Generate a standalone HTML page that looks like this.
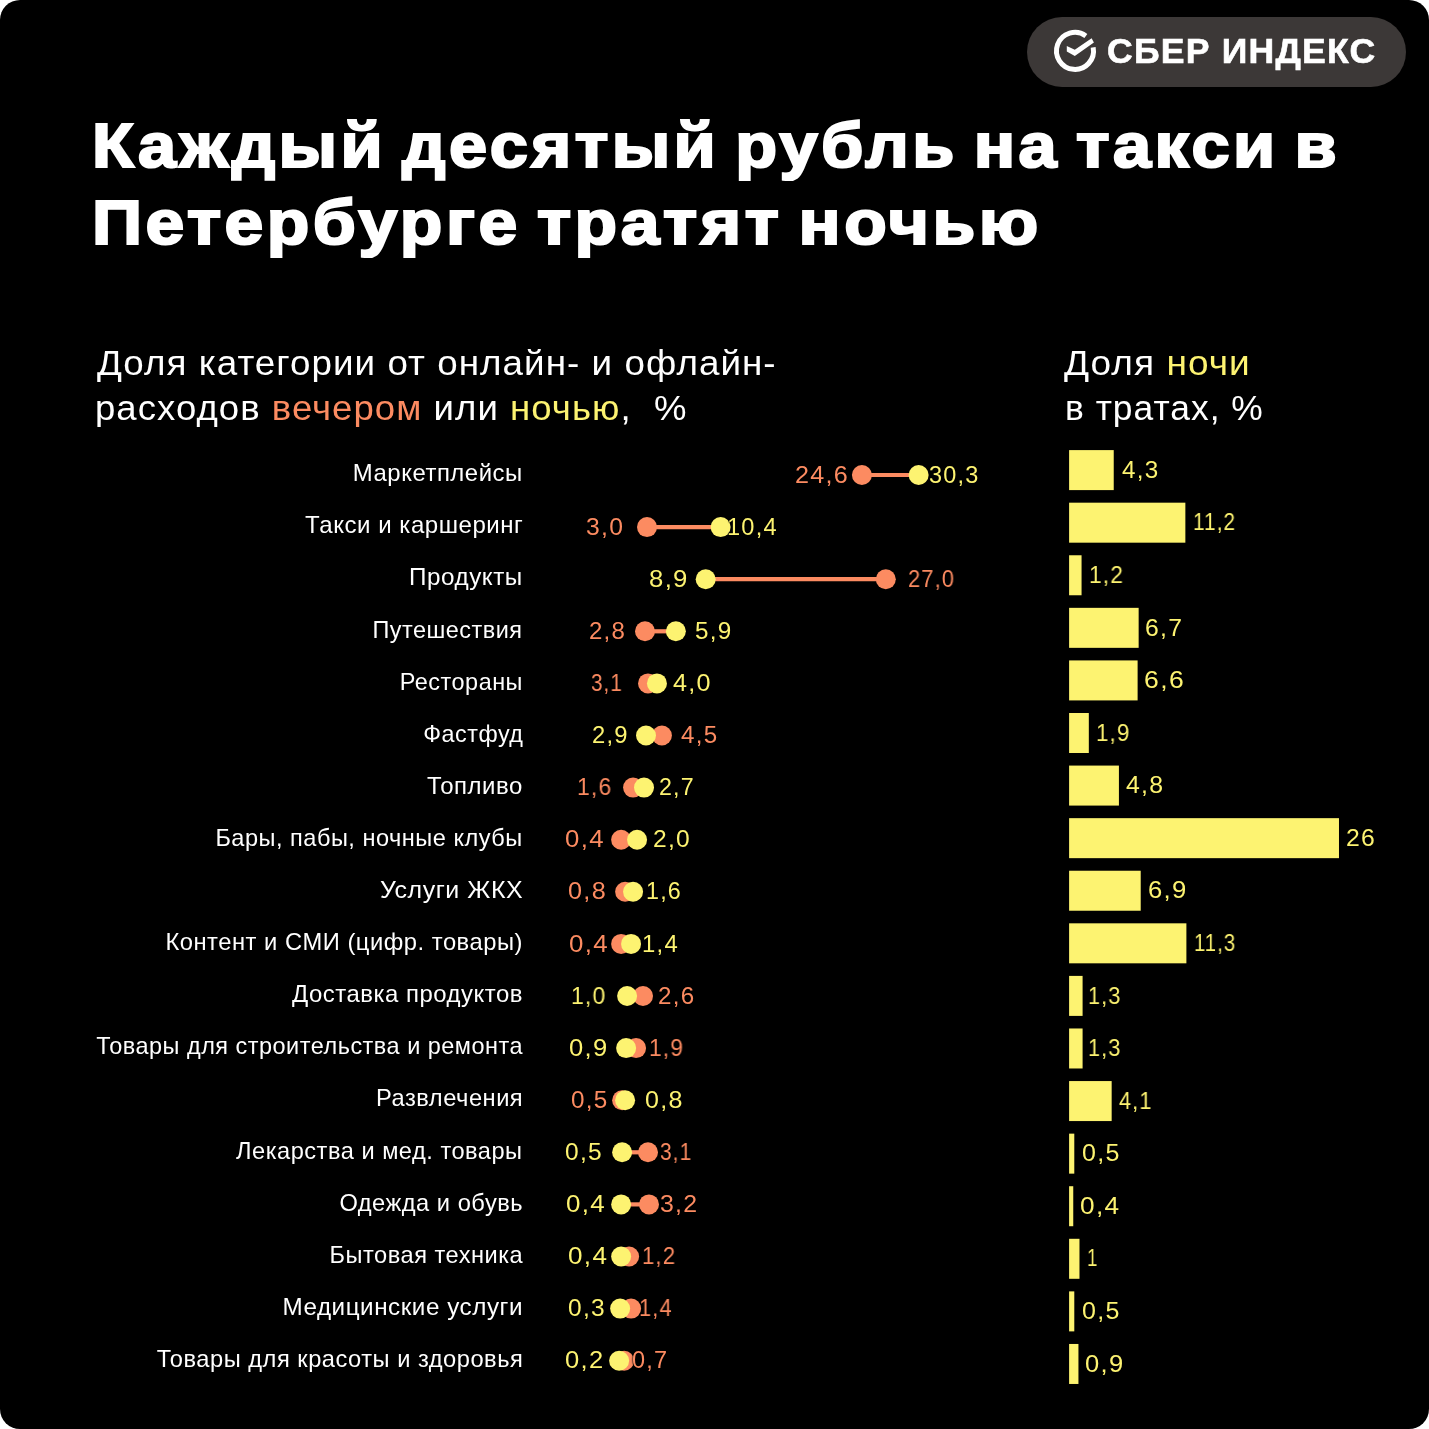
<!DOCTYPE html>
<html><head><meta charset="utf-8"><style>
html,body{margin:0;padding:0;background:#fff;}
#c{position:relative;width:1429px;height:1429px;background:#000;border-radius:20px;overflow:hidden;font-family:"Liberation Sans", sans-serif;}
.t{position:absolute;white-space:nowrap;will-change:transform;}
</style></head><body><div id="c">
<div style="position:absolute;left:1027px;top:17px;width:378.7px;height:70px;border-radius:35.0px;background:#3c3837"></div>
<svg style="position:absolute;left:0;top:0" width="1429" height="120" viewBox="0 0 1429 120"><path d="M1093.16 47.37 A18.5 18.5 0 1 1 1085.87 35.93" fill="none" stroke="#fff" stroke-width="5"/><polygon points="1066.8,45.9 1074.8,49.7 1091.6,38.2 1093.9,42.6 1074.8,56 1066.8,51.4" fill="#fff"/></svg>
<div class="t" style="left:1107.05px;top:33.86px;font-size:35.6px;line-height:35.6px;color:#fff;font-weight:700;transform:scaleX(1.0011);transform-origin:left center;-webkit-text-stroke:0.6px #fff;letter-spacing:1.2px;">СБЕР ИНДЕКС</div>
<div class="t" style="left:91.59px;top:113.95px;font-size:63.5px;line-height:63.5px;color:#fff;font-weight:700;transform:scaleX(1.0787);transform-origin:left center;-webkit-text-stroke:2.2px #fff;letter-spacing:3.2px;word-spacing:-6px;">Каждый десятый рубль на такси в</div>
<div class="t" style="left:91.52px;top:190.75px;font-size:63.5px;line-height:63.5px;color:#fff;font-weight:700;transform:scaleX(1.0971);transform-origin:left center;-webkit-text-stroke:2.2px #fff;letter-spacing:3.2px;word-spacing:-6px;">Петербурге тратят ночью</div>
<div class="t" style="left:96.58px;top:345.12px;font-size:35.3px;line-height:35.3px;color:#fff;font-weight:400;transform:scaleX(1.0419);transform-origin:left center;letter-spacing:1.0px;">Доля категории от онлайн- и офлайн-</div>
<div class="t" style="left:95.07px;top:389.62px;font-size:35.3px;line-height:35.3px;color:#fff;font-weight:400;transform:scaleX(1.0354);transform-origin:left center;letter-spacing:1.0px;">расходов <span style="color:#FC8B61">вечером</span> или <span style="color:#FDF371">ночью</span>,&nbsp; %</div>
<div class="t" style="left:1064.38px;top:345.12px;font-size:35.3px;line-height:35.3px;color:#fff;font-weight:400;transform:scaleX(1.0487);transform-origin:left center;letter-spacing:1.0px;">Доля <span style="color:#FDF371">ночи</span></div>
<div class="t" style="left:1064.70px;top:389.62px;font-size:35.3px;line-height:35.3px;color:#fff;font-weight:400;transform:scaleX(1.0027);transform-origin:left center;letter-spacing:1.0px;">в тратах, %</div>
<svg style="position:absolute;left:0;top:0" width="1429" height="1429" viewBox="0 0 1429 1429">
<line x1="861.92" y1="475.00" x2="918.63" y2="475.00" stroke="#FC8B61" stroke-width="4.2"/>
<circle cx="861.92" cy="475.00" r="10" fill="#FC8B61"/>
<circle cx="918.63" cy="475.00" r="10" fill="#FDF371"/>
<rect x="1069.1" y="450.10" width="44.63" height="40" fill="#FDF371"/>
<line x1="647.00" y1="527.10" x2="720.63" y2="527.10" stroke="#FC8B61" stroke-width="4.2"/>
<circle cx="647.00" cy="527.10" r="10" fill="#FC8B61"/>
<circle cx="720.63" cy="527.10" r="10" fill="#FDF371"/>
<rect x="1069.1" y="502.68" width="116.26" height="40" fill="#FDF371"/>
<line x1="885.80" y1="579.20" x2="705.70" y2="579.20" stroke="#FC8B61" stroke-width="4.2"/>
<circle cx="885.80" cy="579.20" r="10" fill="#FC8B61"/>
<circle cx="705.70" cy="579.20" r="10" fill="#FDF371"/>
<rect x="1069.1" y="555.26" width="12.46" height="40" fill="#FDF371"/>
<line x1="645.01" y1="631.30" x2="675.86" y2="631.30" stroke="#FC8B61" stroke-width="4.2"/>
<circle cx="645.01" cy="631.30" r="10" fill="#FC8B61"/>
<circle cx="675.86" cy="631.30" r="10" fill="#FDF371"/>
<rect x="1069.1" y="607.84" width="69.55" height="40" fill="#FDF371"/>
<line x1="648.00" y1="683.40" x2="656.95" y2="683.40" stroke="#FC8B61" stroke-width="4.2"/>
<circle cx="648.00" cy="683.40" r="10" fill="#FC8B61"/>
<circle cx="656.95" cy="683.40" r="10" fill="#FDF371"/>
<rect x="1069.1" y="660.42" width="68.51" height="40" fill="#FDF371"/>
<line x1="661.92" y1="735.50" x2="646.00" y2="735.50" stroke="#FC8B61" stroke-width="4.2"/>
<circle cx="661.92" cy="735.50" r="10" fill="#FC8B61"/>
<circle cx="646.00" cy="735.50" r="10" fill="#FDF371"/>
<rect x="1069.1" y="713.00" width="19.72" height="40" fill="#FDF371"/>
<line x1="633.07" y1="787.60" x2="644.01" y2="787.60" stroke="#FC8B61" stroke-width="4.2"/>
<circle cx="633.07" cy="787.60" r="10" fill="#FC8B61"/>
<circle cx="644.01" cy="787.60" r="10" fill="#FDF371"/>
<rect x="1069.1" y="765.58" width="49.82" height="40" fill="#FDF371"/>
<line x1="621.13" y1="839.70" x2="637.05" y2="839.70" stroke="#FC8B61" stroke-width="4.2"/>
<circle cx="621.13" cy="839.70" r="10" fill="#FC8B61"/>
<circle cx="637.05" cy="839.70" r="10" fill="#FDF371"/>
<rect x="1069.1" y="818.16" width="269.88" height="40" fill="#FDF371"/>
<line x1="625.11" y1="891.80" x2="633.07" y2="891.80" stroke="#FC8B61" stroke-width="4.2"/>
<circle cx="625.11" cy="891.80" r="10" fill="#FC8B61"/>
<circle cx="633.07" cy="891.80" r="10" fill="#FDF371"/>
<rect x="1069.1" y="870.74" width="71.62" height="40" fill="#FDF371"/>
<line x1="621.13" y1="943.90" x2="631.08" y2="943.90" stroke="#FC8B61" stroke-width="4.2"/>
<circle cx="621.13" cy="943.90" r="10" fill="#FC8B61"/>
<circle cx="631.08" cy="943.90" r="10" fill="#FDF371"/>
<rect x="1069.1" y="923.32" width="117.29" height="40" fill="#FDF371"/>
<line x1="643.02" y1="996.00" x2="627.10" y2="996.00" stroke="#FC8B61" stroke-width="4.2"/>
<circle cx="643.02" cy="996.00" r="10" fill="#FC8B61"/>
<circle cx="627.10" cy="996.00" r="10" fill="#FDF371"/>
<rect x="1069.1" y="975.90" width="13.49" height="40" fill="#FDF371"/>
<line x1="636.05" y1="1048.10" x2="626.11" y2="1048.10" stroke="#FC8B61" stroke-width="4.2"/>
<circle cx="636.05" cy="1048.10" r="10" fill="#FC8B61"/>
<circle cx="626.11" cy="1048.10" r="10" fill="#FDF371"/>
<rect x="1069.1" y="1028.48" width="13.49" height="40" fill="#FDF371"/>
<line x1="622.12" y1="1100.20" x2="625.11" y2="1100.20" stroke="#FC8B61" stroke-width="4.2"/>
<circle cx="622.12" cy="1100.20" r="10" fill="#FC8B61"/>
<circle cx="625.11" cy="1100.20" r="10" fill="#FDF371"/>
<rect x="1069.1" y="1081.06" width="42.56" height="40" fill="#FDF371"/>
<line x1="648.00" y1="1152.30" x2="622.12" y2="1152.30" stroke="#FC8B61" stroke-width="4.2"/>
<circle cx="648.00" cy="1152.30" r="10" fill="#FC8B61"/>
<circle cx="622.12" cy="1152.30" r="10" fill="#FDF371"/>
<rect x="1069.1" y="1133.64" width="5.19" height="40" fill="#FDF371"/>
<line x1="648.99" y1="1204.40" x2="621.13" y2="1204.40" stroke="#FC8B61" stroke-width="4.2"/>
<circle cx="648.99" cy="1204.40" r="10" fill="#FC8B61"/>
<circle cx="621.13" cy="1204.40" r="10" fill="#FDF371"/>
<rect x="1069.1" y="1186.22" width="4.15" height="40" fill="#FDF371"/>
<line x1="629.09" y1="1256.50" x2="621.13" y2="1256.50" stroke="#FC8B61" stroke-width="4.2"/>
<circle cx="629.09" cy="1256.50" r="10" fill="#FC8B61"/>
<circle cx="621.13" cy="1256.50" r="10" fill="#FDF371"/>
<rect x="1069.1" y="1238.80" width="10.38" height="40" fill="#FDF371"/>
<line x1="631.08" y1="1308.60" x2="620.13" y2="1308.60" stroke="#FC8B61" stroke-width="4.2"/>
<circle cx="631.08" cy="1308.60" r="10" fill="#FC8B61"/>
<circle cx="620.13" cy="1308.60" r="10" fill="#FDF371"/>
<rect x="1069.1" y="1291.38" width="5.19" height="40" fill="#FDF371"/>
<line x1="624.12" y1="1360.70" x2="619.14" y2="1360.70" stroke="#FC8B61" stroke-width="4.2"/>
<circle cx="624.12" cy="1360.70" r="10" fill="#FC8B61"/>
<circle cx="619.14" cy="1360.70" r="10" fill="#FDF371"/>
<rect x="1069.1" y="1343.96" width="9.34" height="40" fill="#FDF371"/>
</svg>
<div class="t" style="right:906.00px;top:462.26px;font-size:23.2px;line-height:23.2px;color:#fff;font-weight:400;transform:scaleX(1.0316);transform-origin:right center;letter-spacing:0.5px;">Маркетплейсы</div>
<div class="t" style="left:795.44px;top:463.67px;font-size:23.2px;line-height:23.2px;color:#FC8B61;font-weight:400;transform:scaleX(1.0837);transform-origin:left center;text-shadow:0 0 1.5px #000,0 0 1.5px #000,0 0 1.5px #000;letter-spacing:1.2px;">24,6</div>
<div class="t" style="left:929.36px;top:463.67px;font-size:23.2px;line-height:23.2px;color:#FDF371;font-weight:400;transform:scaleX(1.0126);transform-origin:left center;text-shadow:0 0 1.5px #000,0 0 1.5px #000,0 0 1.5px #000;letter-spacing:1.2px;">30,3</div>
<div class="t" style="left:1122.46px;top:458.77px;font-size:23.2px;line-height:23.2px;color:#FDF371;font-weight:400;transform:scaleX(1.0447);transform-origin:left center;letter-spacing:1.2px;">4,3</div>
<div class="t" style="right:906.00px;top:514.36px;font-size:23.2px;line-height:23.2px;color:#fff;font-weight:400;transform:scaleX(1.0375);transform-origin:right center;letter-spacing:0.5px;">Такси и каршеринг</div>
<div class="t" style="left:586.44px;top:515.77px;font-size:23.2px;line-height:23.2px;color:#FC8B61;font-weight:400;transform:scaleX(1.0645);transform-origin:left center;text-shadow:0 0 1.5px #000,0 0 1.5px #000,0 0 1.5px #000;letter-spacing:1.2px;">3,0</div>
<div class="t" style="left:727.23px;top:515.77px;font-size:23.2px;line-height:23.2px;color:#FDF371;font-weight:400;transform:scaleX(1.0184);transform-origin:left center;text-shadow:0 0 1.5px #000,0 0 1.5px #000,0 0 1.5px #000;letter-spacing:1.2px;">10,4</div>
<div class="t" style="left:1192.83px;top:511.35px;font-size:23.2px;line-height:23.2px;color:#FDF371;font-weight:400;transform:scaleX(0.8962);transform-origin:left center;letter-spacing:1.2px;">11,2</div>
<div class="t" style="right:906.00px;top:566.46px;font-size:23.2px;line-height:23.2px;color:#fff;font-weight:400;transform:scaleX(1.0450);transform-origin:right center;letter-spacing:0.5px;">Продукты</div>
<div class="t" style="left:908.25px;top:567.87px;font-size:23.2px;line-height:23.2px;color:#FC8B61;font-weight:400;transform:scaleX(0.9450);transform-origin:left center;text-shadow:0 0 1.5px #000,0 0 1.5px #000,0 0 1.5px #000;letter-spacing:1.2px;">27,0</div>
<div class="t" style="left:648.68px;top:567.87px;font-size:23.2px;line-height:23.2px;color:#FDF371;font-weight:400;transform:scaleX(1.1088);transform-origin:left center;text-shadow:0 0 1.5px #000,0 0 1.5px #000,0 0 1.5px #000;letter-spacing:1.2px;">8,9</div>
<div class="t" style="left:1088.51px;top:563.93px;font-size:23.2px;line-height:23.2px;color:#FDF371;font-weight:400;transform:scaleX(0.9792);transform-origin:left center;letter-spacing:1.2px;">1,2</div>
<div class="t" style="right:906.00px;top:618.56px;font-size:23.2px;line-height:23.2px;color:#fff;font-weight:400;transform:scaleX(1.0104);transform-origin:right center;letter-spacing:0.5px;">Путешествия</div>
<div class="t" style="left:588.71px;top:619.97px;font-size:23.2px;line-height:23.2px;color:#FC8B61;font-weight:400;transform:scaleX(1.0356);transform-origin:left center;text-shadow:0 0 1.5px #000,0 0 1.5px #000,0 0 1.5px #000;letter-spacing:1.2px;">2,8</div>
<div class="t" style="left:695.17px;top:619.97px;font-size:23.2px;line-height:23.2px;color:#FDF371;font-weight:400;transform:scaleX(1.0447);transform-origin:left center;text-shadow:0 0 1.5px #000,0 0 1.5px #000,0 0 1.5px #000;letter-spacing:1.2px;">5,9</div>
<div class="t" style="left:1144.62px;top:616.51px;font-size:23.2px;line-height:23.2px;color:#FDF371;font-weight:400;transform:scaleX(1.0672);transform-origin:left center;letter-spacing:1.2px;">6,7</div>
<div class="t" style="right:906.00px;top:670.66px;font-size:23.2px;line-height:23.2px;color:#fff;font-weight:400;transform:scaleX(1.0105);transform-origin:right center;letter-spacing:0.5px;">Рестораны</div>
<div class="t" style="left:590.96px;top:672.07px;font-size:23.2px;line-height:23.2px;color:#FC8B61;font-weight:400;transform:scaleX(0.8897);transform-origin:left center;text-shadow:0 0 1.5px #000,0 0 1.5px #000,0 0 1.5px #000;letter-spacing:1.2px;">3,1</div>
<div class="t" style="left:672.86px;top:672.07px;font-size:23.2px;line-height:23.2px;color:#FDF371;font-weight:400;transform:scaleX(1.0859);transform-origin:left center;text-shadow:0 0 1.5px #000,0 0 1.5px #000,0 0 1.5px #000;letter-spacing:1.2px;">4,0</div>
<div class="t" style="left:1144.42px;top:669.09px;font-size:23.2px;line-height:23.2px;color:#FDF371;font-weight:400;transform:scaleX(1.1453);transform-origin:left center;letter-spacing:1.2px;">6,6</div>
<div class="t" style="right:906.00px;top:722.76px;font-size:23.2px;line-height:23.2px;color:#fff;font-weight:400;transform:scaleX(1.0064);transform-origin:right center;letter-spacing:0.5px;">Фастфуд</div>
<div class="t" style="left:681.30px;top:724.17px;font-size:23.2px;line-height:23.2px;color:#FC8B61;font-weight:400;transform:scaleX(1.0409);transform-origin:left center;text-shadow:0 0 1.5px #000,0 0 1.5px #000,0 0 1.5px #000;letter-spacing:1.2px;">4,5</div>
<div class="t" style="left:591.74px;top:724.17px;font-size:23.2px;line-height:23.2px;color:#FDF371;font-weight:400;transform:scaleX(1.0251);transform-origin:left center;text-shadow:0 0 1.5px #000,0 0 1.5px #000,0 0 1.5px #000;letter-spacing:1.2px;">2,9</div>
<div class="t" style="left:1095.94px;top:721.67px;font-size:23.2px;line-height:23.2px;color:#FDF371;font-weight:400;transform:scaleX(0.9627);transform-origin:left center;letter-spacing:1.2px;">1,9</div>
<div class="t" style="right:906.00px;top:774.86px;font-size:23.2px;line-height:23.2px;color:#fff;font-weight:400;transform:scaleX(1.0330);transform-origin:right center;letter-spacing:0.5px;">Топливо</div>
<div class="t" style="left:576.79px;top:776.27px;font-size:23.2px;line-height:23.2px;color:#FC8B61;font-weight:400;transform:scaleX(0.9884);transform-origin:left center;text-shadow:0 0 1.5px #000,0 0 1.5px #000,0 0 1.5px #000;letter-spacing:1.2px;">1,6</div>
<div class="t" style="left:658.77px;top:776.27px;font-size:23.2px;line-height:23.2px;color:#FDF371;font-weight:400;transform:scaleX(1.0010);transform-origin:left center;text-shadow:0 0 1.5px #000,0 0 1.5px #000,0 0 1.5px #000;letter-spacing:1.2px;">2,7</div>
<div class="t" style="left:1126.45px;top:774.25px;font-size:23.2px;line-height:23.2px;color:#FDF371;font-weight:400;transform:scaleX(1.0709);transform-origin:left center;letter-spacing:1.2px;">4,8</div>
<div class="t" style="right:906.00px;top:826.96px;font-size:23.2px;line-height:23.2px;color:#fff;font-weight:400;transform:scaleX(1.0152);transform-origin:right center;letter-spacing:0.5px;">Бары, пабы, ночные клубы</div>
<div class="t" style="left:564.96px;top:828.37px;font-size:23.2px;line-height:23.2px;color:#FC8B61;font-weight:400;transform:scaleX(1.1100);transform-origin:left center;text-shadow:0 0 1.5px #000,0 0 1.5px #000,0 0 1.5px #000;letter-spacing:1.2px;">0,4</div>
<div class="t" style="left:652.70px;top:828.37px;font-size:23.2px;line-height:23.2px;color:#FDF371;font-weight:400;transform:scaleX(1.0603);transform-origin:left center;text-shadow:0 0 1.5px #000,0 0 1.5px #000,0 0 1.5px #000;letter-spacing:1.2px;">2,0</div>
<div class="t" style="left:1346.48px;top:826.83px;font-size:23.2px;line-height:23.2px;color:#FDF371;font-weight:400;transform:scaleX(1.0676);transform-origin:left center;letter-spacing:1.2px;">26</div>
<div class="t" style="right:906.00px;top:879.06px;font-size:23.2px;line-height:23.2px;color:#fff;font-weight:400;transform:scaleX(1.0759);transform-origin:right center;letter-spacing:0.5px;">Услуги ЖКХ</div>
<div class="t" style="left:568.39px;top:880.47px;font-size:23.2px;line-height:23.2px;color:#FC8B61;font-weight:400;transform:scaleX(1.0874);transform-origin:left center;text-shadow:0 0 1.5px #000,0 0 1.5px #000,0 0 1.5px #000;letter-spacing:1.2px;">0,8</div>
<div class="t" style="left:645.66px;top:880.47px;font-size:23.2px;line-height:23.2px;color:#FDF371;font-weight:400;transform:scaleX(1.0053);transform-origin:left center;text-shadow:0 0 1.5px #000,0 0 1.5px #000,0 0 1.5px #000;letter-spacing:1.2px;">1,6</div>
<div class="t" style="left:1148.03px;top:879.41px;font-size:23.2px;line-height:23.2px;color:#FDF371;font-weight:400;transform:scaleX(1.1067);transform-origin:left center;letter-spacing:1.2px;">6,9</div>
<div class="t" style="right:906.00px;top:931.16px;font-size:23.2px;line-height:23.2px;color:#fff;font-weight:400;transform:scaleX(1.0247);transform-origin:right center;letter-spacing:0.5px;">Контент и СМИ (цифр. товары)</div>
<div class="t" style="left:569.31px;top:932.57px;font-size:23.2px;line-height:23.2px;color:#FC8B61;font-weight:400;transform:scaleX(1.1161);transform-origin:left center;text-shadow:0 0 1.5px #000,0 0 1.5px #000,0 0 1.5px #000;letter-spacing:1.2px;">0,4</div>
<div class="t" style="left:642.22px;top:932.57px;font-size:23.2px;line-height:23.2px;color:#FDF371;font-weight:400;transform:scaleX(1.0295);transform-origin:left center;text-shadow:0 0 1.5px #000,0 0 1.5px #000,0 0 1.5px #000;letter-spacing:1.2px;">1,4</div>
<div class="t" style="left:1193.73px;top:931.99px;font-size:23.2px;line-height:23.2px;color:#FDF371;font-weight:400;transform:scaleX(0.8770);transform-origin:left center;letter-spacing:1.2px;">11,3</div>
<div class="t" style="right:906.00px;top:983.26px;font-size:23.2px;line-height:23.2px;color:#fff;font-weight:400;transform:scaleX(1.0310);transform-origin:right center;letter-spacing:0.5px;">Доставка продуктов</div>
<div class="t" style="left:658.31px;top:984.67px;font-size:23.2px;line-height:23.2px;color:#FC8B61;font-weight:400;transform:scaleX(1.0422);transform-origin:left center;text-shadow:0 0 1.5px #000,0 0 1.5px #000,0 0 1.5px #000;letter-spacing:1.2px;">2,6</div>
<div class="t" style="left:571.29px;top:984.67px;font-size:23.2px;line-height:23.2px;color:#FDF371;font-weight:400;transform:scaleX(0.9894);transform-origin:left center;text-shadow:0 0 1.5px #000,0 0 1.5px #000,0 0 1.5px #000;letter-spacing:1.2px;">1,0</div>
<div class="t" style="left:1088.41px;top:984.57px;font-size:23.2px;line-height:23.2px;color:#FDF371;font-weight:400;transform:scaleX(0.9337);transform-origin:left center;letter-spacing:1.2px;">1,3</div>
<div class="t" style="right:906.00px;top:1035.36px;font-size:23.2px;line-height:23.2px;color:#fff;font-weight:400;transform:scaleX(1.0113);transform-origin:right center;letter-spacing:0.5px;">Товары для строительства и ремонта</div>
<div class="t" style="left:649.22px;top:1036.77px;font-size:23.2px;line-height:23.2px;color:#FC8B61;font-weight:400;transform:scaleX(0.9800);transform-origin:left center;text-shadow:0 0 1.5px #000,0 0 1.5px #000,0 0 1.5px #000;letter-spacing:1.2px;">1,9</div>
<div class="t" style="left:569.39px;top:1036.77px;font-size:23.2px;line-height:23.2px;color:#FDF371;font-weight:400;transform:scaleX(1.1004);transform-origin:left center;text-shadow:0 0 1.5px #000,0 0 1.5px #000,0 0 1.5px #000;letter-spacing:1.2px;">0,9</div>
<div class="t" style="left:1088.41px;top:1037.15px;font-size:23.2px;line-height:23.2px;color:#FDF371;font-weight:400;transform:scaleX(0.9337);transform-origin:left center;letter-spacing:1.2px;">1,3</div>
<div class="t" style="right:906.00px;top:1087.46px;font-size:23.2px;line-height:23.2px;color:#fff;font-weight:400;transform:scaleX(1.0208);transform-origin:right center;letter-spacing:0.5px;">Развлечения</div>
<div class="t" style="left:571.02px;top:1088.87px;font-size:23.2px;line-height:23.2px;color:#FC8B61;font-weight:400;transform:scaleX(1.0465);transform-origin:left center;text-shadow:0 0 1.5px #000,0 0 1.5px #000,0 0 1.5px #000;letter-spacing:1.2px;">0,5</div>
<div class="t" style="left:645.24px;top:1088.87px;font-size:23.2px;line-height:23.2px;color:#FDF371;font-weight:400;transform:scaleX(1.0802);transform-origin:left center;text-shadow:0 0 1.5px #000,0 0 1.5px #000,0 0 1.5px #000;letter-spacing:1.2px;">0,8</div>
<div class="t" style="left:1118.52px;top:1089.73px;font-size:23.2px;line-height:23.2px;color:#FDF371;font-weight:400;transform:scaleX(0.9364);transform-origin:left center;letter-spacing:1.2px;">4,1</div>
<div class="t" style="right:906.00px;top:1139.56px;font-size:23.2px;line-height:23.2px;color:#fff;font-weight:400;transform:scaleX(1.0176);transform-origin:right center;letter-spacing:0.5px;">Лекарства и мед. товары</div>
<div class="t" style="left:660.46px;top:1140.97px;font-size:23.2px;line-height:23.2px;color:#FC8B61;font-weight:400;transform:scaleX(0.9022);transform-origin:left center;text-shadow:0 0 1.5px #000,0 0 1.5px #000,0 0 1.5px #000;letter-spacing:1.2px;">3,1</div>
<div class="t" style="left:565.44px;top:1140.97px;font-size:23.2px;line-height:23.2px;color:#FDF371;font-weight:400;transform:scaleX(1.0575);transform-origin:left center;text-shadow:0 0 1.5px #000,0 0 1.5px #000,0 0 1.5px #000;letter-spacing:1.2px;">0,5</div>
<div class="t" style="left:1081.66px;top:1142.31px;font-size:23.2px;line-height:23.2px;color:#FDF371;font-weight:400;transform:scaleX(1.0789);transform-origin:left center;letter-spacing:1.2px;">0,5</div>
<div class="t" style="right:906.00px;top:1191.66px;font-size:23.2px;line-height:23.2px;color:#fff;font-weight:400;transform:scaleX(1.0201);transform-origin:right center;letter-spacing:0.5px;">Одежда и обувь</div>
<div class="t" style="left:660.29px;top:1193.07px;font-size:23.2px;line-height:23.2px;color:#FC8B61;font-weight:400;transform:scaleX(1.0720);transform-origin:left center;text-shadow:0 0 1.5px #000,0 0 1.5px #000,0 0 1.5px #000;letter-spacing:1.2px;">3,2</div>
<div class="t" style="left:566.36px;top:1193.07px;font-size:23.2px;line-height:23.2px;color:#FDF371;font-weight:400;transform:scaleX(1.1184);transform-origin:left center;text-shadow:0 0 1.5px #000,0 0 1.5px #000,0 0 1.5px #000;letter-spacing:1.2px;">0,4</div>
<div class="t" style="left:1080.35px;top:1194.89px;font-size:23.2px;line-height:23.2px;color:#FDF371;font-weight:400;transform:scaleX(1.1306);transform-origin:left center;letter-spacing:1.2px;">0,4</div>
<div class="t" style="right:906.00px;top:1243.76px;font-size:23.2px;line-height:23.2px;color:#fff;font-weight:400;transform:scaleX(1.0179);transform-origin:right center;letter-spacing:0.5px;">Бытовая техника</div>
<div class="t" style="left:641.66px;top:1245.17px;font-size:23.2px;line-height:23.2px;color:#FC8B61;font-weight:400;transform:scaleX(0.9553);transform-origin:left center;text-shadow:0 0 1.5px #000,0 0 1.5px #000,0 0 1.5px #000;letter-spacing:1.2px;">1,2</div>
<div class="t" style="left:568.36px;top:1245.17px;font-size:23.2px;line-height:23.2px;color:#FDF371;font-weight:400;transform:scaleX(1.1245);transform-origin:left center;text-shadow:0 0 1.5px #000,0 0 1.5px #000,0 0 1.5px #000;letter-spacing:1.2px;">0,4</div>
<div class="t" style="left:1086.89px;top:1247.47px;font-size:23.2px;line-height:23.2px;color:#FDF371;font-weight:400;transform:scaleX(0.8006);transform-origin:left center;letter-spacing:1.2px;">1</div>
<div class="t" style="right:906.00px;top:1295.86px;font-size:23.2px;line-height:23.2px;color:#fff;font-weight:400;transform:scaleX(1.0459);transform-origin:right center;letter-spacing:0.5px;">Медицинские услуги</div>
<div class="t" style="left:639.27px;top:1297.27px;font-size:23.2px;line-height:23.2px;color:#FC8B61;font-weight:400;transform:scaleX(0.9430);transform-origin:left center;text-shadow:0 0 1.5px #000,0 0 1.5px #000,0 0 1.5px #000;letter-spacing:1.2px;">1,4</div>
<div class="t" style="left:568.44px;top:1297.27px;font-size:23.2px;line-height:23.2px;color:#FDF371;font-weight:400;transform:scaleX(1.0568);transform-origin:left center;text-shadow:0 0 1.5px #000,0 0 1.5px #000,0 0 1.5px #000;letter-spacing:1.2px;">0,3</div>
<div class="t" style="left:1081.66px;top:1300.05px;font-size:23.2px;line-height:23.2px;color:#FDF371;font-weight:400;transform:scaleX(1.0789);transform-origin:left center;letter-spacing:1.2px;">0,5</div>
<div class="t" style="right:906.00px;top:1347.96px;font-size:23.2px;line-height:23.2px;color:#fff;font-weight:400;transform:scaleX(1.0202);transform-origin:right center;letter-spacing:0.5px;">Товары для красоты и здоровья</div>
<div class="t" style="left:632.44px;top:1349.37px;font-size:23.2px;line-height:23.2px;color:#FC8B61;font-weight:400;transform:scaleX(1.0123);transform-origin:left center;text-shadow:0 0 1.5px #000,0 0 1.5px #000,0 0 1.5px #000;letter-spacing:1.2px;">0,7</div>
<div class="t" style="left:565.02px;top:1349.37px;font-size:23.2px;line-height:23.2px;color:#FDF371;font-weight:400;transform:scaleX(1.1012);transform-origin:left center;text-shadow:0 0 1.5px #000,0 0 1.5px #000,0 0 1.5px #000;letter-spacing:1.2px;">0,2</div>
<div class="t" style="left:1085.18px;top:1352.63px;font-size:23.2px;line-height:23.2px;color:#FDF371;font-weight:400;transform:scaleX(1.1004);transform-origin:left center;letter-spacing:1.2px;">0,9</div>
</div></body></html>
